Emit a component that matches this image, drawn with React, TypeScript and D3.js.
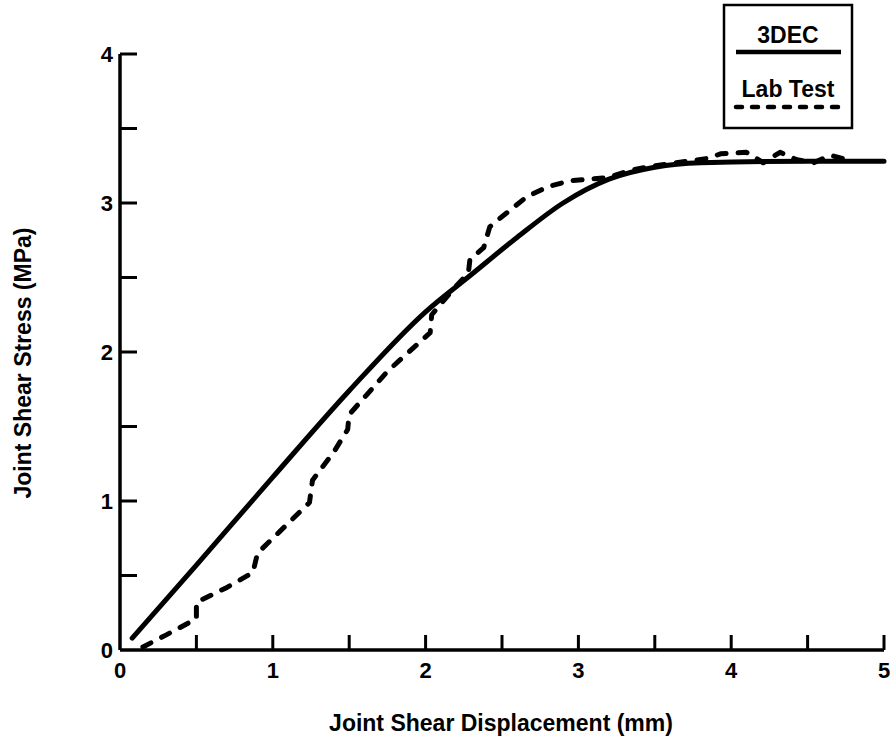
import React, { useEffect, useRef } from 'react';
import * as d3 from 'd3';

const width: number = 890;
const height: number = 742;

// 3DEC model curve, [displacement mm, stress MPa]
const dec3Curve: [number, number][] = [
  [0.08, 0.08], [0.5, 0.57], [1.0, 1.16], [1.5, 1.74], [2.0, 2.27],
  [2.3, 2.52], [2.6, 2.77], [2.9, 3.0], [3.2, 3.16], [3.5, 3.24],
  [3.8, 3.27], [4.5, 3.28], [5.0, 3.28]
];

// Lab test curve, [displacement mm, stress MPa]
const labCurve: [number, number][] = [
  [0.15, 0.02], [0.3, 0.1], [0.5, 0.21], [0.5, 0.32], [0.7, 0.42],
  [0.87, 0.52], [0.9, 0.65], [1.1, 0.85], [1.24, 0.99], [1.26, 1.14],
  [1.4, 1.33], [1.49, 1.48], [1.5, 1.58], [1.75, 1.87], [2.03, 2.13],
  [2.04, 2.25], [2.18, 2.42], [2.28, 2.53], [2.29, 2.62], [2.38, 2.7],
  [2.42, 2.84], [2.49, 2.9], [2.66, 3.04], [2.8, 3.11], [2.95, 3.15],
  [3.19, 3.17], [3.34, 3.22], [3.5, 3.25], [3.71, 3.28], [3.85, 3.3],
  [3.93, 3.33], [4.1, 3.34], [4.21, 3.27], [4.32, 3.34], [4.43, 3.29],
  [4.54, 3.27], [4.65, 3.32], [4.8, 3.28]
];

const xTickLabels: number[] = [0, 1, 2, 3, 4, 5];
const yTickLabels: number[] = [0, 1, 2, 3, 4];
const minorTicks: number[] = [0.5, 1, 1.5, 2, 2.5, 3, 3.5, 4, 4.5, 5];
const legendNames: string[] = ['3DEC', 'Lab Test'];

const font = '"Liberation Sans", Arial, sans-serif';

export default function App() {
  const ref = useRef<SVGSVGElement>(null);

  useEffect(() => {
    const svg = d3.select(ref.current);
    svg.selectAll('*').remove();

    const xScale: any = d3.scaleLinear().domain([0, 5]).range([120, 884]);
    const yScale: any = d3.scaleLinear().domain([0, 4]).range([650, 54]);

    // Axes lines
    svg.append('line')
      .attr('x1', xScale(0)).attr('x2', xScale(5))
      .attr('y1', yScale(0)).attr('y2', yScale(0))
      .attr('stroke', '#000').attr('stroke-width', 3.5);
    svg.append('line')
      .attr('x1', xScale(0)).attr('x2', xScale(0))
      .attr('y1', yScale(0)).attr('y2', yScale(4))
      .attr('stroke', '#000').attr('stroke-width', 3.5);

    // Inward ticks
    svg.selectAll('.xtick').data(minorTicks).enter().append('line')
      .attr('class', 'xtick')
      .attr('x1', (d: number) => xScale(d)).attr('x2', (d: number) => xScale(d))
      .attr('y1', yScale(0)).attr('y2', yScale(0) - 15)
      .attr('stroke', '#000').attr('stroke-width', 3);
    svg.selectAll('.ytick').data(minorTicks.filter((d) => d <= 4)).enter().append('line')
      .attr('class', 'ytick')
      .attr('x1', xScale(0)).attr('x2', xScale(0) + 17)
      .attr('y1', (d: number) => yScale(d)).attr('y2', (d: number) => yScale(d))
      .attr('stroke', '#000').attr('stroke-width', 3);

    // Tick labels
    svg.selectAll('.xlab').data(xTickLabels).enter().append('text')
      .attr('class', 'xlab')
      .attr('x', (d: number) => xScale(d)).attr('y', 678)
      .attr('text-anchor', 'middle')
      .style('font-family', font).style('font-weight', 'bold').style('font-size', '22px')
      .text((d: number) => d);
    svg.selectAll('.ylab').data(yTickLabels).enter().append('text')
      .attr('class', 'ylab')
      .attr('x', 113).attr('y', (d: number) => yScale(d) + 8)
      .attr('text-anchor', 'end')
      .style('font-family', font).style('font-weight', 'bold').style('font-size', '22px')
      .text((d: number) => d);

    // Axis titles
    svg.append('text')
      .attr('x', 501).attr('y', 731)
      .attr('text-anchor', 'middle')
      .style('font-family', font).style('font-weight', 'bold').style('font-size', '23px')
      .text('Joint Shear Displacement (mm)');
    svg.append('text')
      .attr('transform', 'translate(31,363) rotate(-90)')
      .attr('text-anchor', 'middle')
      .style('font-family', font).style('font-weight', 'bold').style('font-size', '23px')
      .text('Joint Shear Stress (MPa)');

    const smooth: any = d3.line()
      .curve(d3.curveMonotoneX)
      .x((d: any) => xScale(d[0]))
      .y((d: any) => yScale(d[1]));

    const line: any = d3.line()
      .x((d: any) => xScale(d[0]))
      .y((d: any) => yScale(d[1]));

    svg.append('path')
      .datum(dec3Curve)
      .attr('d', smooth)
      .attr('fill', 'none').attr('stroke', '#000')
      .attr('stroke-width', 5).attr('stroke-linecap', 'round').attr('stroke-linejoin', 'round');

    svg.append('path')
      .datum(labCurve)
      .attr('d', line)
      .attr('fill', 'none').attr('stroke', '#000')
      .attr('stroke-width', 5).attr('stroke-linecap', 'round').attr('stroke-linejoin', 'round')
      .attr('stroke-dasharray', '9 12');

    // Legend
    const lg: any = svg.append('g');
    lg.append('rect')
      .attr('x', 724).attr('y', 5).attr('width', 128).attr('height', 123)
      .attr('fill', '#fff').attr('stroke', '#000').attr('stroke-width', 2.5);
    lg.selectAll('.legtext').data(legendNames).enter().append('text')
      .attr('class', 'legtext')
      .attr('x', 788).attr('y', (d: string, i: number) => 43 + i * 54)
      .attr('text-anchor', 'middle')
      .style('font-family', font).style('font-weight', 'bold').style('font-size', '23px')
      .text((d: string) => d);
    lg.selectAll('.legline').data(legendNames).enter().append('line')
      .attr('class', 'legline')
      .attr('x1', 736).attr('x2', 841)
      .attr('y1', (d: string, i: number) => 52 + i * 55)
      .attr('y2', (d: string, i: number) => 52 + i * 55)
      .attr('stroke', '#000').attr('stroke-width', 4.5)
      .attr('stroke-linecap', (d: string, i: number) => (i === 0 ? 'butt' : 'round'))
      .attr('stroke-dasharray', (d: string, i: number) => (i === 0 ? null : '6 10'));
  }, []);

  return (
    <svg
      ref={ref}
      width={width}
      height={height}
      viewBox={`0 0 ${width} ${height}`}
      style={{ position: 'absolute', left: 0, top: 0, background: '#fff' }}
    />
  );
}
